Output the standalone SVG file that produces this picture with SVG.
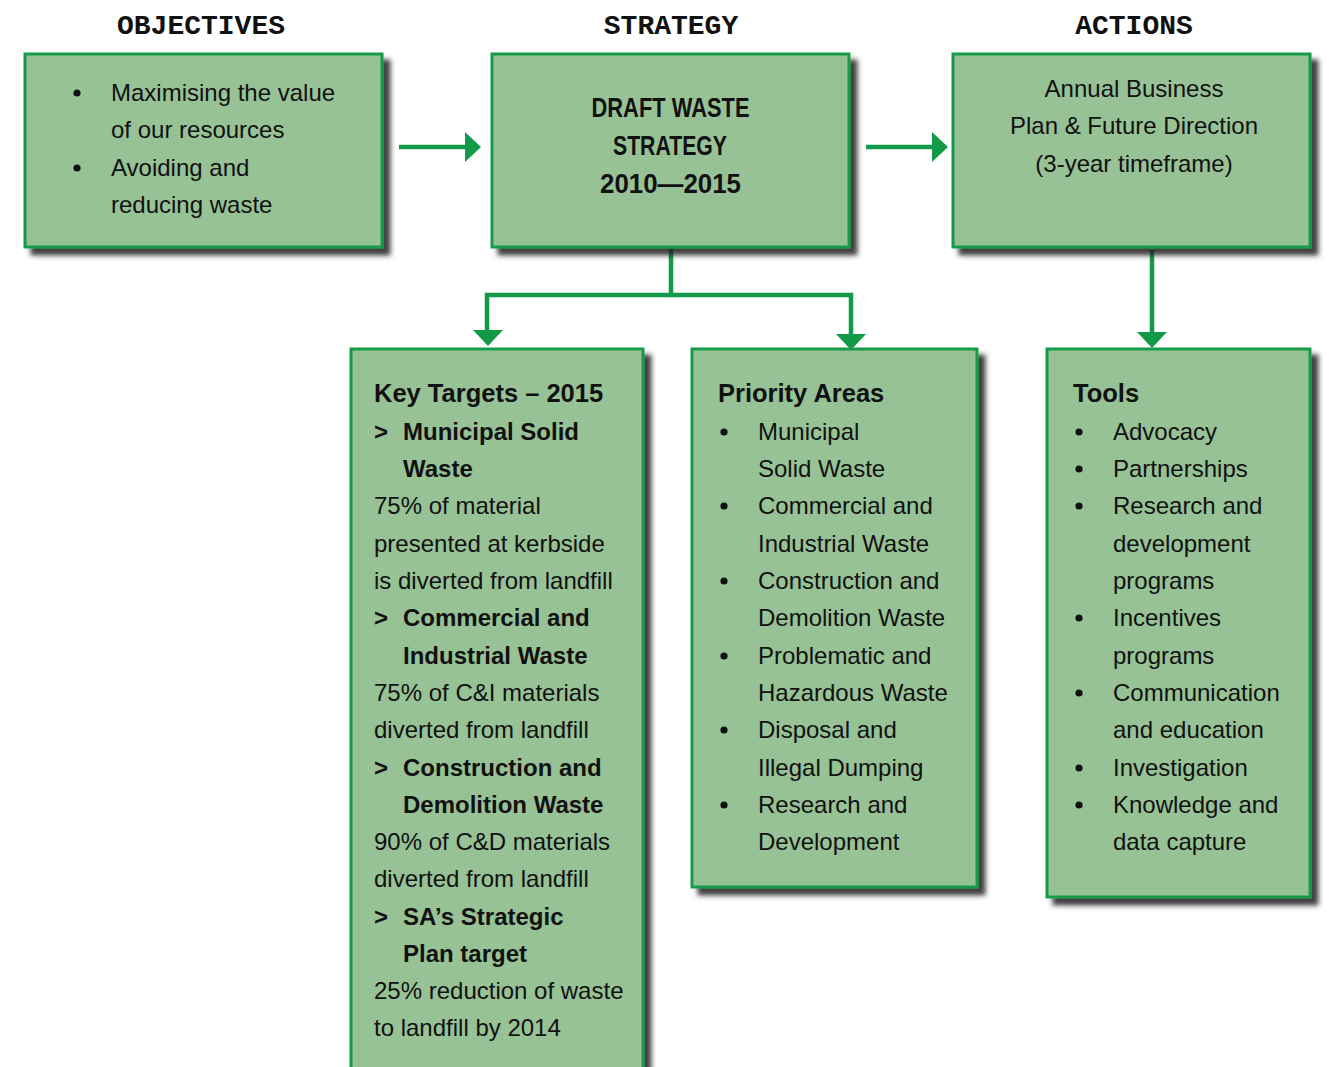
<svg xmlns="http://www.w3.org/2000/svg" width="1332" height="1067" viewBox="0 0 1332 1067">
<defs>
<filter id="sh" x="-10%" y="-10%" width="130%" height="130%">
<feDropShadow dx="7" dy="7" stdDeviation="2.5" flood-color="#1e1e1e" flood-opacity="0.85"/>
</filter>
<style>
.box{fill:#97c295;stroke:#169b48;stroke-width:3;filter:url(#sh)}
.hd{font-family:"Liberation Mono","Courier New",monospace;font-weight:bold;font-size:28px;fill:#111;text-anchor:middle}
.t{font-family:"Liberation Sans",Arial,Helvetica,sans-serif;font-size:24px;fill:#111}
.b{font-weight:bold}
.ttl{font-family:"Liberation Sans",Arial,Helvetica,sans-serif;font-size:25.5px;font-weight:bold;fill:#111}
.c{text-anchor:middle}
.cond{font-family:"Liberation Sans Narrow","Liberation Sans",Arial,sans-serif;font-size:28px;font-weight:bold;fill:#111;text-anchor:middle}
.ln{stroke:#129a48;stroke-width:4.5;fill:none}
.ah{fill:#129a48}
.bu{fill:#111}
</style>
</defs>

<g id="headers">
<text class="hd" x="201" y="34">OBJECTIVES</text>
<text class="hd" x="671" y="34">STRATEGY</text>
<text class="hd" x="1134" y="34">ACTIONS</text>
</g>

<g id="connectors">
<line class="ln" x1="399" y1="147" x2="467" y2="147"/>
<polygon class="ah" points="465,132 481,147 465,162"/>
<line class="ln" x1="866" y1="147" x2="934" y2="147"/>
<polygon class="ah" points="932,132 948,147 932,162"/>
<polyline class="ln" points="671,248 671,295 487,295 487,332"/>
<polygon class="ah" points="473,330 503,330 488,346"/>
<polyline class="ln" points="671,295 851,295 851,336"/>
<polygon class="ah" points="836,334 866,334 851,350"/>
<line class="ln" x1="1152" y1="250" x2="1152" y2="334"/>
<polygon class="ah" points="1137,332 1167,332 1152,348"/>
</g>

<g id="objectives">
<rect class="box" x="25" y="54" width="357" height="193"/>
<circle class="bu" cx="77" cy="93" r="3.6"/>
<circle class="bu" cx="77" cy="168" r="3.6"/>
<text class="t" x="111" y="101">Maximising the value</text>
<text class="t" x="111" y="138">of our resources</text>
<text class="t" x="111" y="176">Avoiding and</text>
<text class="t" x="111" y="213">reducing waste</text>
</g>

<g id="strategy">
<rect class="box" x="492" y="54" width="357" height="193"/>
<text class="cond" x="670.5" y="117" textLength="158" lengthAdjust="spacingAndGlyphs">DRAFT WASTE</text>
<text class="cond" x="670" y="155" textLength="114" lengthAdjust="spacingAndGlyphs">STRATEGY</text>
<text class="cond" x="670.5" y="193" textLength="141" lengthAdjust="spacingAndGlyphs">2010—2015</text>
</g>

<g id="actions">
<rect class="box" x="953" y="54" width="357" height="193"/>
<text class="t c" x="1134" y="97">Annual Business</text>
<text class="t c" x="1134" y="134">Plan &amp; Future Direction</text>
<text class="t c" x="1134" y="172">(3-year timeframe)</text>
</g>

<g id="key-targets">
<rect class="box" x="351" y="349" width="292" height="740"/>
<text class="ttl" x="374" y="402">Key Targets – 2015</text>
<text class="t b" x="374" y="440">&gt;</text>
<text class="t b" x="403" y="440">Municipal Solid</text>
<text class="t b" x="403" y="477">Waste</text>
<text class="t" x="374" y="514">75% of material</text>
<text class="t" x="374" y="552">presented at kerbside</text>
<text class="t" x="374" y="589">is diverted from landfill</text>
<text class="t b" x="374" y="626">&gt;</text>
<text class="t b" x="403" y="626">Commercial and</text>
<text class="t b" x="403" y="664">Industrial Waste</text>
<text class="t" x="374" y="701">75% of C&amp;I materials</text>
<text class="t" x="374" y="738">diverted from landfill</text>
<text class="t b" x="374" y="776">&gt;</text>
<text class="t b" x="403" y="776">Construction and</text>
<text class="t b" x="403" y="813">Demolition Waste</text>
<text class="t" x="374" y="850">90% of C&amp;D materials</text>
<text class="t" x="374" y="887">diverted from landfill</text>
<text class="t b" x="374" y="925">&gt;</text>
<text class="t b" x="403" y="925">SA’s Strategic</text>
<text class="t b" x="403" y="962">Plan target</text>
<text class="t" x="374" y="999">25% reduction of waste</text>
<text class="t" x="374" y="1036">to landfill by 2014</text>
</g>

<g id="priority-areas">
<rect class="box" x="692" y="349" width="285" height="538"/>
<text class="ttl" x="718" y="402">Priority Areas</text>
<circle class="bu" cx="724" cy="432" r="3.6"/>
<circle class="bu" cx="724" cy="506" r="3.6"/>
<circle class="bu" cx="724" cy="581" r="3.6"/>
<circle class="bu" cx="724" cy="656" r="3.6"/>
<circle class="bu" cx="724" cy="730" r="3.6"/>
<circle class="bu" cx="724" cy="805" r="3.6"/>
<text class="t" x="758" y="440">Municipal</text>
<text class="t" x="758" y="477">Solid Waste</text>
<text class="t" x="758" y="514">Commercial and</text>
<text class="t" x="758" y="552">Industrial Waste</text>
<text class="t" x="758" y="589">Construction and</text>
<text class="t" x="758" y="626">Demolition Waste</text>
<text class="t" x="758" y="664">Problematic and</text>
<text class="t" x="758" y="701">Hazardous Waste</text>
<text class="t" x="758" y="738">Disposal and</text>
<text class="t" x="758" y="776">Illegal Dumping</text>
<text class="t" x="758" y="813">Research and</text>
<text class="t" x="758" y="850">Development</text>
</g>

<g id="tools">
<rect class="box" x="1047" y="349" width="263" height="548"/>
<text class="ttl" x="1073" y="402">Tools</text>
<circle class="bu" cx="1079" cy="432" r="3.6"/>
<circle class="bu" cx="1079" cy="469" r="3.6"/>
<circle class="bu" cx="1079" cy="506" r="3.6"/>
<circle class="bu" cx="1079" cy="618" r="3.6"/>
<circle class="bu" cx="1079" cy="693" r="3.6"/>
<circle class="bu" cx="1079" cy="768" r="3.6"/>
<circle class="bu" cx="1079" cy="805" r="3.6"/>
<text class="t" x="1113" y="440">Advocacy</text>
<text class="t" x="1113" y="477">Partnerships</text>
<text class="t" x="1113" y="514">Research and</text>
<text class="t" x="1113" y="552">development</text>
<text class="t" x="1113" y="589">programs</text>
<text class="t" x="1113" y="626">Incentives</text>
<text class="t" x="1113" y="664">programs</text>
<text class="t" x="1113" y="701">Communication</text>
<text class="t" x="1113" y="738">and education</text>
<text class="t" x="1113" y="776">Investigation</text>
<text class="t" x="1113" y="813">Knowledge and</text>
<text class="t" x="1113" y="850">data capture</text>
</g>
</svg>
